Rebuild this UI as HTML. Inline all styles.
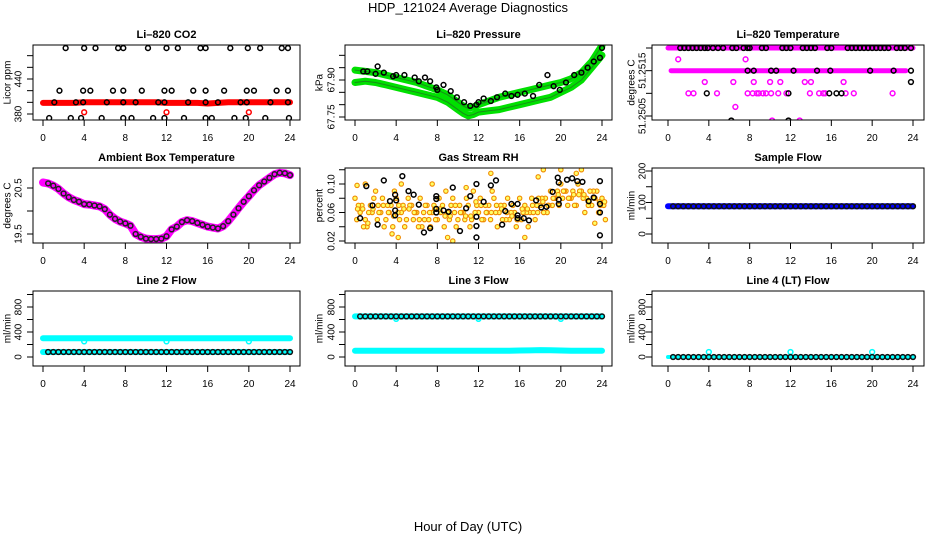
<!DOCTYPE html>
<html><head><meta charset="utf-8">
<style>
html,body{margin:0;padding:0;background:#fff;}
svg{display:block;font-family:"Liberation Sans",sans-serif;}
</style></head>
<body>
<svg id="c" width="936" height="540" viewBox="0 0 936 540">
<text x="468" y="12" text-anchor="middle" font-size="13">HDP_121024  Average Diagnostics</text>
<text x="468" y="531" text-anchor="middle" font-size="13">Hour of Day (UTC)</text>
</svg>
<script>
// ---------- data ----------
const H25=[0,1,2,3,4,5,6,7,8,9,10,11,12,13,14,15,16,17,18,19,20,21,22,23,24];
const H49=[0,0.5,1,1.5,2,2.5,3,3.5,4,4.5,5,5.5,6,6.5,7,7.5,8,8.5,9,9.5,10,10.5,11,11.5,12,12.5,13,13.5,14,14.5,15,15.5,16,16.5,17,17.5,18,18.5,19,19.5,20,20.5,21,21.5,22,22.5,23,23.5,24];
const H48=[0.5,1,1.5,2,2.5,3,3.5,4,4.5,5,5.5,6,6.5,7,7.5,8,8.5,9,9.5,10,10.5,11,11.5,12,12.5,13,13.5,14,14.5,15,15.5,16,16.5,17,17.5,18,18.5,19,19.5,20,20.5,21,21.5,22,22.5,23,23.5,24];
const xTicks=[0,4,8,12,16,20,24];

// CO2
const co2Red=[399,399,399,399,400,400,400,400,400,400,400,400,399,399,399,399,398,399,400,400,400,400,400,400,400];
const co2TopH=[2.2,4.0,5.1,7.3,7.8,10.2,12.0,13.1,15.3,15.8,18.2,19.9,21.1,23.2,23.8];
const co2TopV=[493,493,493,493,493,493,493,493,493,493,493,493,493,493,493];
const co2MidH=[1.6,3.9,4.6,6.8,7.8,9.6,11.8,12.5,14.6,15.8,17.6,19.8,20.5,22.7,23.8];
const co2MidV=[420,420,420,420,420,420,420,420,420,420,420,420,420,420,420];
const co2LowH=[1.1,3.2,3.9,6.2,7.8,9.0,11.2,11.8,14.1,15.8,17.0,19.2,19.8,22.1,23.8];
const co2LowV=[400,400,400,400,400,400,400,400,400,400,400,400,400,400,400];
const co2BotH=[0.6,2.7,3.7,5.7,7.8,8.6,10.7,11.8,13.7,15.8,16.4,18.6,19.7,21.6,23.9];
const co2BotV=[373,373,373,373,373,373,373,373,373,373,373,373,373,373,373];
const co2RedPtH=[4,12,20];
const co2RedPtV=[383,383,383];

// Pressure
const presH=[0,1,2,3,4,5,6,7,8,9,10,10.5,11,11.5,12,13,14,15,16,17,18,19,20,21,22,23,24];
const presUpper=[67.94,67.935,67.93,67.92,67.91,67.90,67.89,67.875,67.86,67.84,67.81,67.795,67.785,67.79,67.80,67.815,67.83,67.84,67.85,67.86,67.87,67.88,67.89,67.905,67.93,67.975,68.04];
const presLower=[67.89,67.895,67.89,67.88,67.87,67.86,67.85,67.84,67.83,67.81,67.78,67.765,67.755,67.76,67.77,67.775,67.78,67.79,67.80,67.81,67.82,67.83,67.85,67.87,67.90,67.95,68.00];
const presPtH=[0.8,1.2,2.0,2.2,2.8,3.7,4.0,4.8,5.8,6.2,6.8,7.3,7.9,8.0,8.6,9.3,9.9,10.6,11.2,11.8,12.0,12.5,13.2,13.8,14.6,15.2,15.8,16.5,17.3,17.9,18.7,19.3,19.9,20.5,21.3,22.0,22.6,23.2,23.8,24.0];
const presPtV=[67.935,67.935,67.925,67.955,67.93,67.915,67.92,67.92,67.91,67.895,67.91,67.895,67.87,67.86,67.88,67.855,67.83,67.81,67.795,67.80,67.81,67.825,67.815,67.83,67.845,67.835,67.84,67.845,67.835,67.88,67.92,67.875,67.86,67.89,67.92,67.93,67.95,67.975,67.99,68.03];

// Temperature
const tempTopLineH=[0,24];
const tempTopLineV=[51.2520,51.2520];
const tempMidLineH=[0.3,1.3,1.7,23.3];
const tempMidLineV=[51.2515,51.2515,51.2515,51.2515];
const tempBlkTopH=[1.2,1.6,2.0,2.4,2.8,3.2,3.6,3.9,4.4,4.9,5.4,6.3,6.7,7.4,7.8,8.0,9.2,9.6,11.2,11.6,12.0,13.2,13.6,14.0,14.4,15.6,16.0,17.6,18.0,18.4,18.8,19.2,19.6,20.0,20.4,20.8,21.2,21.6,22.4,22.8,23.2,23.8];
const tempBlkTopV=tempBlkTopH.map(()=>51.2520);
const tempMagScatH=[1.0,7.6,3.6,6.4,8.4,10.0,11.0,13.4,14.0,17.2,2.0,2.5,4.8,7.8,8.3,8.7,8.9,9.3,9.6,10.1,10.8,11.6,13.9,14.8,15.2,15.4,17.4,18.2,22.0,6.6,10.2,12.9];
const tempMagScatV=[51.25175,51.25175,51.25125,51.25125,51.25125,51.25125,51.25125,51.25125,51.25125,51.25125,51.2510,51.2510,51.2510,51.2510,51.2510,51.2510,51.2510,51.2510,51.2510,51.2510,51.2510,51.2510,51.2510,51.2510,51.2510,51.2510,51.2510,51.2510,51.2510,51.2507,51.2504,51.2504];
const tempBlkScatH=[23.8,3.8,11.8,15.8,16.5,17.0,6.2,11.8,7.8,8.4,10.1,10.6,12.3,14.6,15.9,19.8,22.1,23.8];
const tempBlkScatV=[51.25125,51.2510,51.2510,51.2510,51.2510,51.2510,51.2504,51.2504,51.2515,51.2515,51.2515,51.2515,51.2515,51.2515,51.2515,51.2515,51.2515,51.2515];

// Ambient
const ambV=[20.62,20.6,20.55,20.48,20.38,20.3,20.24,20.2,20.15,20.14,20.12,20.1,20.04,19.92,19.83,19.77,19.73,19.68,19.5,19.44,19.4,19.39,19.39,19.4,19.45,19.6,19.66,19.76,19.8,19.78,19.74,19.7,19.66,19.64,19.62,19.67,19.78,19.92,20.06,20.2,20.32,20.45,20.56,20.64,20.72,20.8,20.83,20.82,20.78];

// RH
const rhA=[.08,.06,.05,.07,.09,.06,.05,.07,.08,.06,.05,.07,.06,.04,.07,.06,.05,.07,.06,.08,.05,.06,.07,.09,.06,.05,.07,.08,.06,.07,.05,.06,.08,.07,.06,.05,.07,.08,.09,.08,.10,.09,.08,.07,.09,.08,.07,.09,.08];
const rhB=[.05,.07,.04,.06,.05,.08,.07,.04,.06,.07,.08,.05,.04,.06,.05,.07,.08,.04,.05,.06,.07,.05,.04,.06,.08,.07,.05,.06,.07,.05,.06,.04,.05,.06,.08,.07,.08,.06,.07,.09,.08,.07,.09,.10,.08,.07,.09,.06,.07];
const rhC=[.07,.04,.06,.08,.06,.04,.06,.09,.05,.04,.07,.06,.08,.07,.04,.05,.06,.09,.07,.04,.06,.08,.05,.07,.05,.06,.09,.04,.05,.08,.07,.05,.06,.04,.06,.08,.06,.07,.08,.07,.09,.08,.07,.09,.06,.09,.08,.07,.05];
const rhOutH=[0.2,1.0,4.5,7.5,9.0,9.5,13.2,17.8,18.3,20.0,21.5,22.0,23.3,4.2,16.5,3.6,10.8];
const rhOutV=[.098,.10,.10,.10,.025,.02,.115,.11,.12,.12,.115,.12,.045,.025,.025,.03,.095];
const rhBlkH=[0.5,1.1,1.7,2.2,2.8,3.4,3.9,3.9,3.9,4.0,4.6,5.2,5.7,6.2,6.7,7.3,7.9,7.9,7.9,7.9,8.6,9.1,9.5,10.2,10.8,11.2,11.8,11.8,11.8,11.8,12.5,13.2,13.7,14.3,14.6,15.2,15.8,15.8,15.8,16.4,16.9,17.6,18.1,18.6,19.2,19.7,19.8,19.8,19.8,20.6,21.1,21.6,22.1,22.7,23.2,23.8,23.8,23.8,23.8];
const rhBlkV=[.052,.097,.07,.043,.105,.076,.085,.063,.056,.077,.111,.09,.085,.071,.032,.038,.083,.079,.065,.06,.063,.061,.095,.034,.066,.083,.1,.054,.041,.025,.075,.098,.105,.043,.062,.072,.072,.056,.052,.052,.049,.077,.067,.068,.089,.109,.102,.078,.072,.106,.108,.104,.103,.076,.081,.104,.072,.06,.028];

// Flows
const sampleBlue=[88,88,88,88,88,88,88,88,88,88,88,88,88,88,88,88,88,88,88,88,88,88,88,88,88];
const sampleBlk=[88,88,88,88,88,88,88,88,88,88,88,88,88,88,88,88,88,88,88,88,88,88,88,88,88,88,88,88,88,88,88,88,88,88,88,88,88,88,88,88,88,88,88,88,88,88,88,88];
const l2CyanHi=[300,300,300,300,300,300,300,300,300,300,300,300,300,300,300,300,300,300,300,300,300,300,300,300,300];
const l2CyanLo=[80,80,80,80,80,80,80,80,80,80,80,80,80,80,80,80,80,80,80,80,80,80,80,80,80];
const l2Blk=[80,80,80,80,80,80,80,80,80,80,80,80,80,80,80,80,80,80,80,80,80,80,80,80,80,80,80,80,80,80,80,80,80,80,80,80,80,80,80,80,80,80,80,80,80,80,80,80];
const spikeH=[4,12,20];
const l2Spike=[250,250,250];
const l3CyanHi=[650,650,650,650,650,650,650,650,650,650,650,650,650,650,650,650,650,650,650,650,650,650,650,650,650];
const l3CyanLo=[100,100,100,100,100,100,100,100,100,100,100,100,100,100,100,100,104,106,110,108,104,100,100,100,100];
const l3Blk=[650,650,650,650,650,650,650,650,650,650,650,650,650,650,650,650,650,650,650,650,650,650,650,650,650,650,650,650,650,650,650,650,650,650,650,650,650,650,650,650,650,650,650,650,650,650,650,650];
const l3Spike=[610,610,610];
const l4Cyan=[0,0,0,0,0,0,0,0,0,0,0,0,0,0,0,0,0,0,0,0,0,0,0,0,0];
const l4Blk=[0,0,0,0,0,0,0,0,0,0,0,0,0,0,0,0,0,0,0,0,0,0,0,0,0,0,0,0,0,0,0,0,0,0,0,0,0,0,0,0,0,0,0,0,0,0,0,0];
const l4Spike=[80,80,80];

// ---------- drawing ----------
const NS='http://www.w3.org/2000/svg';
const svg=document.getElementById('c');
const COLS=[{bx0:33,bx1:300,x0:43,x1:290,tl:19,yl:8},{bx0:345,bx1:612,x0:355,x1:602,tl:332,yl:320},{bx0:652,bx1:924,x0:668,x1:913,tl:643,yl:632}];
const ROWS=[{by0:45,by1:120},{by0:168,by1:243},{by0:291,by1:366}];

function el(tag,attrs,name,parent){
  const e=document.createElementNS(NS,tag);
  for(const k in attrs) e.setAttribute(k,attrs[k]);
  
  
  (parent||svg).appendChild(e);
  return e;
}

function makePanel(p){
  const c=COLS[p.col], r=ROWS[p.row];
  const g=el('g',{},p.name);
  const sx=h=>c.x0+(h/24)*(c.x1-c.x0);
  const sy=v=>p.p0+(v-p.v0)*(p.p1-p.p0)/(p.v1-p.v0);
  const clipId='clip'+p.col+p.row;
  const cp=el('clipPath',{id:clipId},'clip-region',g);
  el('rect',{x:c.bx0,y:r.by0,width:c.bx1-c.bx0,height:r.by1-r.by0},'clip-rect',cp);
  const t=el('text',{x:(c.bx0+c.bx1)/2,y:r.by0-7,'text-anchor':'middle','font-size':11,'font-weight':'bold'},'panel-title',g);
  t.textContent=p.title;
  xTicks.forEach(h=>{
    el('line',{x1:sx(h),x2:sx(h),y1:r.by1,y2:r.by1+6,stroke:'#000','stroke-width':1},'x-tick',g);
    const tx=el('text',{x:sx(h),y:r.by1+21,'text-anchor':'middle','font-size':10},'x-tick-label',g);
    tx.textContent=h;
  });
  p.ticks.forEach(v=>{
    el('line',{x1:c.bx0-6,x2:c.bx0,y1:sy(v),y2:sy(v),stroke:'#000','stroke-width':1},'y-tick',g);
  });
  p.labels.forEach(v=>{
    const ty=el('text',{x:c.tl,y:sy(v),'text-anchor':'middle','dominant-baseline':'middle','font-size':10,transform:`rotate(-90 ${c.tl} ${sy(v)})`},'y-tick-label',g);
    ty.textContent=p.fmt?p.fmt(v):v;
  });
  const ym=(r.by0+r.by1)/2;
  const yl=el('text',{x:c.yl,y:ym,'text-anchor':'middle','dominant-baseline':'middle','font-size':10,transform:`rotate(-90 ${c.yl} ${ym})`},'y-axis-title',g);
  yl.textContent=p.ylab;
  const plot=el('g',{'clip-path':`url(#${clipId})`},'plot-area',g);
  el('rect',{x:c.bx0,y:r.by0,width:c.bx1-c.bx0,height:r.by1-r.by0,fill:'none',stroke:'#000','stroke-width':1},'plot-box',g);
  return {
    line(xs,ys,color,w,name){
      const pts=xs.map((h,i)=>sx(h).toFixed(1)+','+sy(ys[i]).toFixed(1)).join(' ');
      el('polyline',{points:pts,fill:'none',stroke:color,'stroke-width':w,'stroke-linejoin':'round','stroke-linecap':'round'},name,plot);
    },
    pts(xs,ys,color,name,fill,rr,sw){
      xs.forEach((h,i)=>{
        el('circle',{cx:sx(h),cy:sy(ys[i]),r:rr||2.4,fill:fill||'none',stroke:color,'stroke-width':sw||1.5},name,plot);
      });
    }
  };
}

let P=makePanel({name:'panel-co2',title:'Li–820 CO2',col:0,row:0,ylab:'Licor ppm',v0:380,p0:114,v1:440,p1:79,ticks:[380,400,420,440,460,480],labels:[380,440]});
P.line(H25,co2Red,'#ff0000',6,'co2-red-series');
P.pts(co2TopH,co2TopV,'#000','co2-point');
P.pts(co2MidH,co2MidV,'#000','co2-point');
P.pts(co2LowH,co2LowV,'#000','co2-point');
P.pts(co2BotH,co2BotV,'#000','co2-point');
P.pts(co2RedPtH,co2RedPtV,'#ff0000','co2-red-point');

P=makePanel({name:'panel-pressure',title:'Li–820 Pressure',col:1,row:0,ylab:'kPa',v0:67.75,p0:117,v1:67.90,p1:80,ticks:[67.75,67.80,67.85,67.90,67.95,68.00],labels:[67.75,67.90],fmt:v=>v.toFixed(2)});
P.line(presH,presUpper,'#00e000',7,'pressure-upper-band');
P.line(presH,presLower,'#00e000',7,'pressure-lower-band');
P.line(presH,presUpper,'#1a8a1a',1,'pressure-upper-core');
P.line(presH,presLower,'#1a8a1a',1,'pressure-lower-core');
P.pts(presPtH,presPtV,'#000','pressure-point');

P=makePanel({name:'panel-temperature',title:'Li–820 Temperature',col:2,row:0,ylab:'degrees C',v0:51.2505,p0:116,v1:51.2520,p1:48,ticks:[51.2505,51.2510,51.2515,51.2520],labels:[51.2505,51.2515],fmt:v=>v.toFixed(4)});
P.line(tempTopLineH,tempTopLineV,'#ff00ff',5,'temp-top-line');
P.line(tempMidLineH,tempMidLineV,'#ff00ff',5,'temp-mid-line');
P.pts(tempBlkTopH,tempBlkTopV,'#000','temp-black-point');
P.pts(tempMagScatH,tempMagScatV,'#ff00ff','temp-magenta-point');
P.pts(tempBlkScatH,tempBlkScatV,'#000','temp-black-point');

P=makePanel({name:'panel-ambient',title:'Ambient Box Temperature',col:0,row:1,ylab:'degrees C',v0:19.5,p0:234,v1:20.5,p1:188,ticks:[19.5,20.0,20.5],labels:[19.5,20.5],fmt:v=>v.toFixed(1)});
P.line(H49,ambV,'#ff00ff',8,'ambient-magenta-series');
P.pts(H48,ambV.slice(1),'#222','ambient-point');

P=makePanel({name:'panel-rh',title:'Gas Stream RH',col:1,row:1,ylab:'percent',v0:0.02,p0:241,v1:0.10,p1:184,ticks:[0.02,0.04,0.06,0.08,0.10,0.12],labels:[0.02,0.06,0.10],fmt:v=>v.toFixed(2)});
P.pts(H49,rhA,'#f08a00','rh-point','#ffff66',2.2,1.1);
P.pts(H49.map(h=>h+0.17),rhB,'#f08a00','rh-point','#ffff66',2.2,1.1);
P.pts(H49.map(h=>h+0.33),rhC,'#f08a00','rh-point','#ffff66',2.2,1.1);
P.pts(H49.map(h=>h+0.25),rhA.map((v,i)=>(v+rhB[i])/2),'#f08a00','rh-point','#ffff66',2.2,1.1);
P.pts(rhOutH,rhOutV,'#f08a00','rh-outlier','#ffff66',2.2,1.1);
P.pts(rhBlkH,rhBlkV,'#000','rh-black-point');

P=makePanel({name:'panel-sample-flow',title:'Sample Flow',col:2,row:1,ylab:'ml/min',v0:0,p0:234,v1:200,p1:171,ticks:[0,50,100,150,200],labels:[0,100,200]});
P.line(H25,sampleBlue,'#0000ff',6,'sample-flow-blue');
P.pts(H48,sampleBlk,'#111','sample-flow-point');

P=makePanel({name:'panel-line2',title:'Line 2 Flow',col:0,row:2,ylab:'ml/min',v0:0,p0:357,v1:800,p1:307,ticks:[0,200,400,600,800,1000],labels:[0,400,800]});
P.line(H25,l2CyanHi,'#00ffff',6,'line2-cyan-high');
P.line(H25,l2CyanLo,'#00ffff',6,'line2-cyan-low');
P.pts(spikeH,l2Spike,'#00ffff','line2-cyan-point');
P.pts(H48,l2Blk,'#111','line2-point');

P=makePanel({name:'panel-line3',title:'Line 3 Flow',col:1,row:2,ylab:'ml/min',v0:0,p0:357,v1:800,p1:307,ticks:[0,200,400,600,800,1000],labels:[0,400,800]});
P.line(H25,l3CyanHi,'#00ffff',6,'line3-cyan-high');
P.line(H25,l3CyanLo,'#00ffff',6,'line3-cyan-low');
P.pts(spikeH,l3Spike,'#00ffff','line3-cyan-point');
P.pts(H48,l3Blk,'#111','line3-point');

P=makePanel({name:'panel-line4',title:'Line 4 (LT) Flow',col:2,row:2,ylab:'ml/min',v0:0,p0:357,v1:800,p1:307,ticks:[0,200,400,600,800,1000],labels:[0,400,800]});
P.line(H25,l4Cyan,'#00ffff',4,'line4-cyan');
P.pts(spikeH,l4Spike,'#00ffff','line4-cyan-point');
P.pts(H48,l4Blk,'#111','line4-point');
</script>
</body></html>
